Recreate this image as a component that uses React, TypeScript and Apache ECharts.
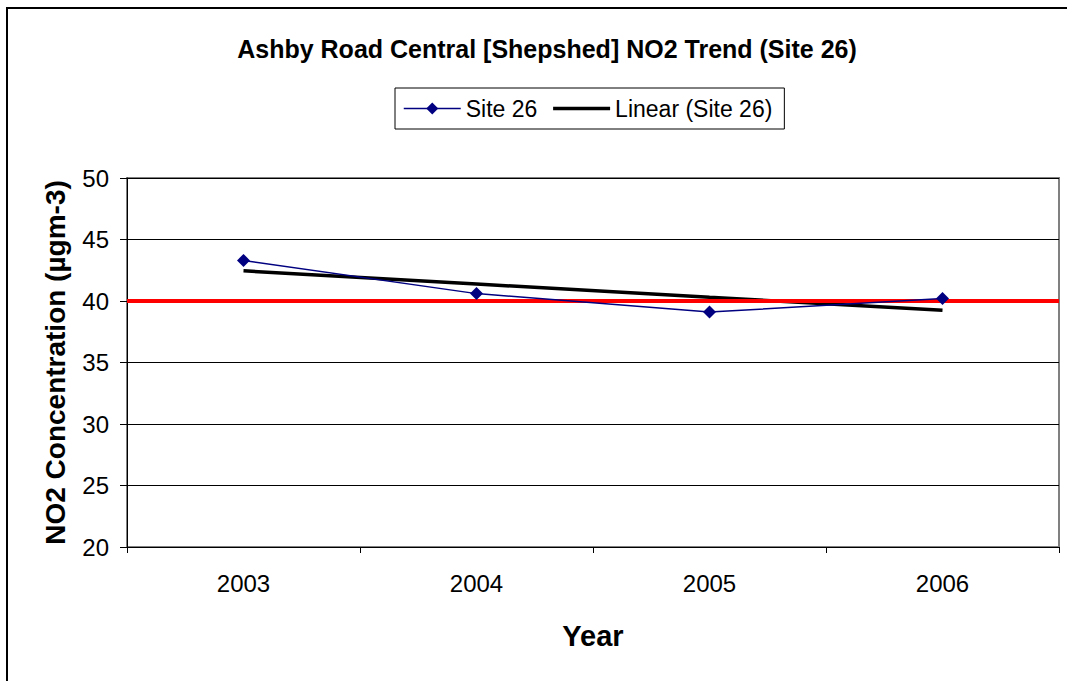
import React, { useEffect, useRef } from "react";
import * as echarts from "echarts";

const TITLE = "Ashby Road Central [Shepshed] NO2 Trend (Site 26)";
const years = ["2003", "2004", "2005", "2006"];
const site26 = [43.3, 40.6, 39.1, 40.2];
const linearSite26 = [42.45, 41.38, 40.3, 39.25];
const LIMIT = 40;
const yTicks = { min: 20, max: 50, interval: 5 };

const FONT = "'Liberation Sans', Arial, sans-serif";

export default function App() {
  const ref = useRef<HTMLDivElement>(null);
  useEffect(() => {
    if (!ref.current) return;
    const chart = echarts.init(ref.current, null, { renderer: "svg" });
    chart.setOption({
      animation: false,
      backgroundColor: "#ffffff",
      textStyle: { fontFamily: FONT, color: "#000" },
      title: {
        text: TITLE,
        left: 542,
        top: 31,
        textAlign: "center",
        textStyle: { fontFamily: FONT, fontSize: 25, fontWeight: "bold", color: "#000" },
      },
      legend: {
        left: 395,
        top: 88,
        padding: [9, 12, 9, 8],
        borderColor: "#000",
        borderWidth: 1,
        itemWidth: 57,
        itemHeight: 15,
        itemGap: 14,
        textStyle: { fontFamily: FONT, fontSize: 23, color: "#000" },
        data: [
          { name: "Site 26", lineStyle: { width: 1.5, color: "#000080" } },
          {
            name: "Linear (Site 26)",
            itemStyle: { opacity: 0, color: "transparent", borderWidth: 0 },
            lineStyle: { width: 3.5, color: "#000" },
          },
        ],
      },
      graphic: [
        {
          type: "rect",
          shape: { x: 7, y: 8, width: 1100, height: 720 },
          style: { fill: "none", stroke: "#000", lineWidth: 2 },
          silent: true,
          z: 100,
        },
      ],
      grid: {
        left: 127,
        top: 178,
        right: 8,
        bottom: 134,
        show: true,
        borderColor: "#808080",
        borderWidth: 2,
        containLabel: false,
      },
      xAxis: {
        type: "category",
        data: years,
        boundaryGap: true,
        name: "Year",
        nameLocation: "middle",
        nameGap: 74,
        nameTextStyle: { fontFamily: FONT, fontSize: 29, fontWeight: "bold", color: "#000" },
        axisLine: { lineStyle: { color: "#000", width: 1 } },
        axisTick: { show: true, length: 6, alignWithLabel: false, lineStyle: { color: "#000" } },
        axisLabel: { fontFamily: FONT, fontSize: 24, color: "#000", margin: 24 },
        splitLine: { show: false },
      },
      yAxis: {
        type: "value",
        min: yTicks.min,
        max: yTicks.max,
        interval: yTicks.interval,
        name: "NO2 Concentration (µgm-3)",
        nameLocation: "middle",
        nameGap: 58,
        nameRotate: 90,
        nameTextStyle: { fontFamily: FONT, fontSize: 28, fontWeight: "bold", color: "#000" },
        axisLine: { show: true, lineStyle: { color: "#000", width: 1 } },
        axisTick: { show: true, length: 7, lineStyle: { color: "#000" } },
        axisLabel: { fontFamily: FONT, fontSize: 24, color: "#000", margin: 18 },
        splitLine: { show: true, lineStyle: { color: "#000", width: 1 } },
      },
      series: [
        {
          name: "Linear (Site 26)",
          type: "line",
          data: linearSite26,
          symbol: "none",
          showSymbol: false,
          lineStyle: { color: "#000", width: 3.5 },
          itemStyle: { color: "#000" },
          z: 2,
          markLine: {
            silent: true,
            symbol: "none",
            label: { show: false },
            lineStyle: { color: "#ff0000", width: 4, type: "solid" },
            data: [{ yAxis: LIMIT }],
            z: 3,
          },
        },
        {
          name: "Site 26",
          type: "line",
          data: site26,
          symbol: "diamond",
          symbolSize: 13,
          showSymbol: true,
          lineStyle: { color: "#000080", width: 1.5 },
          itemStyle: { color: "#000080" },
          z: 4,
        },
      ],
    });
    return () => chart.dispose();
  }, []);
  return (
    <div
      ref={ref}
      style={{ position: "fixed", left: 0, top: 0, width: 1067, height: 681 }}
    />
  );
}
